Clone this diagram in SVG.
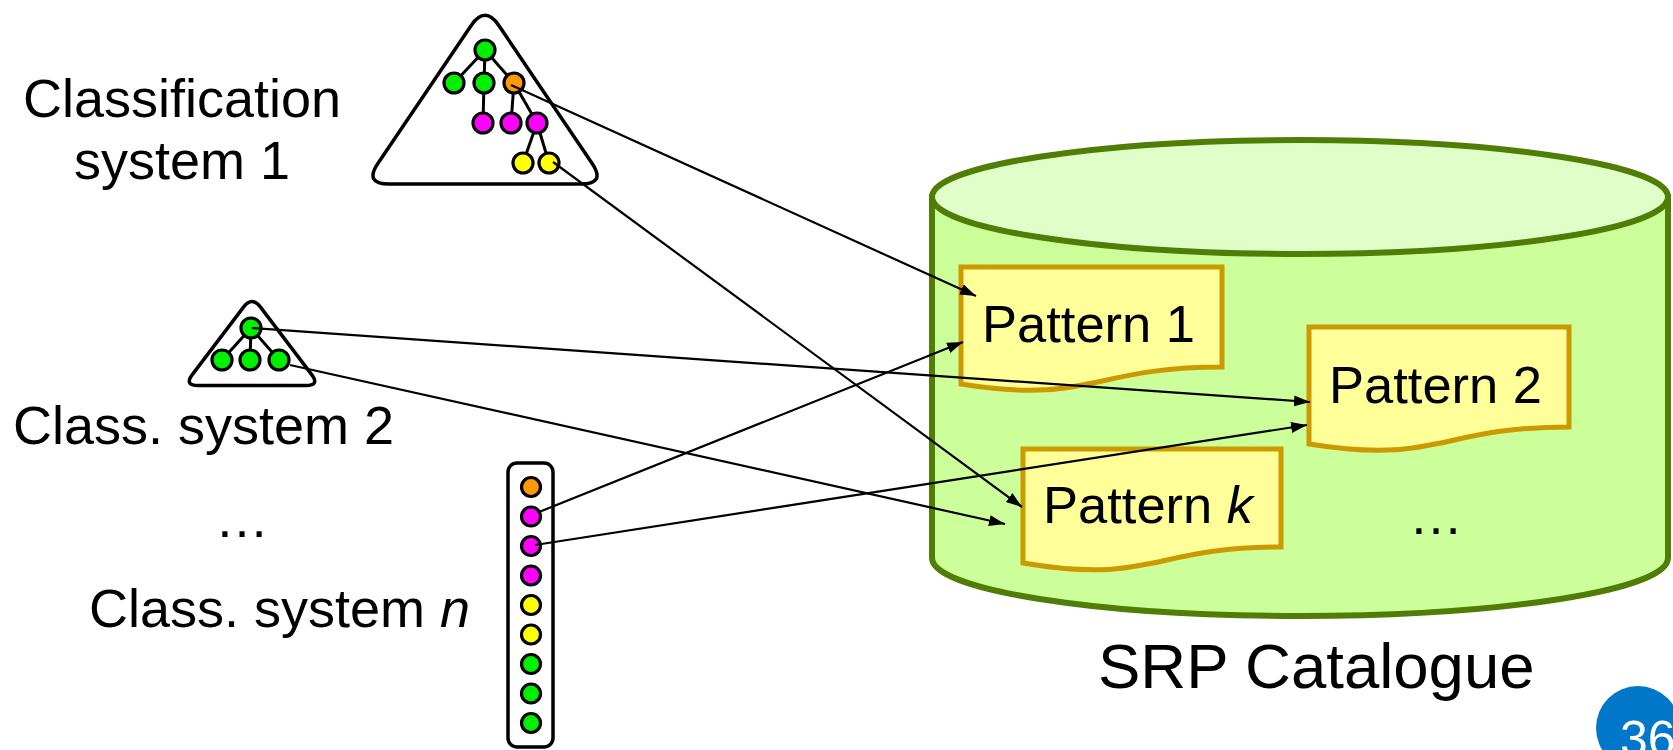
<svg xmlns="http://www.w3.org/2000/svg" width="1673" height="750" viewBox="0 0 1673 750">
<style>
.lbl{font-family:"Liberation Sans",Arial,sans-serif;fill:#000}
.big{font-size:54px}
.pat{font-size:52.5px}
.frame{fill:#fff;stroke:#000;stroke-width:3.5}
.n{stroke:#000;stroke-width:3.2}
.g{fill:#00f000}.m{fill:#ff00ff}.y{fill:#ffff00}.o{fill:#ff9900}
.edge{stroke:#000;stroke-width:3;fill:none}
.doc{fill:#ffff99;stroke:#cc9900;stroke-width:5}
.conn{stroke:#000;stroke-width:2.2;fill:none;marker-end:url(#arr)}
</style>
<defs>
<marker id="arr" markerUnits="userSpaceOnUse" markerWidth="17" markerHeight="12" refX="16" refY="5.5" orient="auto">
<path d="M0,0 L16,5.5 L0,11 z" fill="#000"/>
</marker>
</defs>
<rect width="1673" height="750" fill="#fff"/>

<g id="catalogue">
<path d="M932,197 L932,558 A368,58 0 0 0 1668,558 L1668,197 Z" fill="#ccff99" stroke="#4f7d05" stroke-width="6"/>
<ellipse cx="1300" cy="197" rx="368" ry="57" fill="#e0ffc8" stroke="#4f7d05" stroke-width="6"/>
<text class="lbl big" x="1409" y="534">…</text>
<text class="lbl" x="1098" y="688" font-size="63.5">SRP Catalogue</text>
</g>

<g id="pattern1">
<path class="doc" d="M961,267 H1222 V367 C1091,367 1091,405 961,384 Z"/>
<text class="lbl pat" x="982" y="342">Pattern 1</text>
</g>
<g id="pattern2">
<path class="doc" d="M1309,327 H1569 V427 C1439,427 1439,465 1309,444 Z"/>
<text class="lbl pat" x="1329" y="403">Pattern 2</text>
</g>
<g id="patternk">
<path class="doc" d="M1023,449 H1281 V547 C1152,547 1152,585 1023,563 Z"/>
<text class="lbl pat" x="1043" y="523">Pattern <tspan font-style="italic">k</tspan></text>
</g>

<g id="cs1">
<text class="lbl big" x="182" y="117" text-anchor="middle">Classification</text>
<text class="lbl big" x="182" y="179" text-anchor="middle">system 1</text>
<path class="frame" d="M471,25.7 Q485,5 499,25.7 L592,163.3 Q606,184 581,184 L389,184 Q364,184 378,163.3 Z"/>
<g class="edge">
<line x1="485" y1="50" x2="454" y2="83"/>
<line x1="485" y1="50" x2="484" y2="83"/>
<line x1="485" y1="50" x2="514" y2="83"/>
<line x1="484" y1="83" x2="483" y2="123"/>
<line x1="514" y1="83" x2="511" y2="123"/>
<line x1="514" y1="83" x2="537" y2="123"/>
<line x1="537" y1="123" x2="523" y2="163"/>
<line x1="537" y1="123" x2="549" y2="163"/>
</g>
<circle class="n g" cx="485" cy="50" r="10"/>
<circle class="n g" cx="454" cy="83" r="10"/>
<circle class="n g" cx="484" cy="83" r="10"/>
<circle class="n o" cx="514" cy="83" r="10"/>
<circle class="n m" cx="483" cy="123" r="10"/>
<circle class="n m" cx="511" cy="123" r="10"/>
<circle class="n m" cx="537" cy="123" r="10"/>
<circle class="n y" cx="523" cy="163" r="10"/>
<circle class="n y" cx="549" cy="163" r="10"/>
</g>

<g id="cs2">
<path class="frame" d="M243.5,307.1 Q252,296 260.5,307.1 L311.5,374.4 Q320,385.5 306,385.5 L198,385.5 Q184,385.5 192.5,374.4 Z"/>
<g class="edge">
<line x1="251" y1="328" x2="222" y2="360"/>
<line x1="251" y1="328" x2="250" y2="360"/>
<line x1="251" y1="328" x2="279" y2="360"/>
</g>
<circle class="n g" cx="251" cy="328" r="10"/>
<circle class="n g" cx="222" cy="360" r="10"/>
<circle class="n g" cx="250" cy="360" r="10"/>
<circle class="n g" cx="279" cy="360" r="10"/>
<text class="lbl big" x="13" y="444">Class. system 2</text>
</g>

<g id="dots">
<text class="lbl big" x="215" y="537">…</text>
</g>

<g id="csn">
<text class="lbl big" x="89" y="627">Class. system <tspan font-style="italic">n</tspan></text>
<rect class="frame" x="508" y="463" width="45" height="284" rx="9"/>
<circle class="n o" cx="531" cy="487" r="9.5"/>
<circle class="n m" cx="531" cy="516.5" r="9.5"/>
<circle class="n m" cx="531" cy="546" r="9.5"/>
<circle class="n m" cx="531" cy="575.5" r="9.5"/>
<circle class="n y" cx="531" cy="605" r="9.5"/>
<circle class="n y" cx="531" cy="634.5" r="9.5"/>
<circle class="n g" cx="531" cy="664" r="9.5"/>
<circle class="n g" cx="531" cy="693.5" r="9.5"/>
<circle class="n g" cx="531" cy="723" r="9.5"/>
</g>

<g id="connectors">
<line class="conn" x1="511" y1="85" x2="976" y2="296"/>
<line class="conn" x1="553" y1="162" x2="1022" y2="507"/>
<line class="conn" x1="252" y1="328" x2="1310" y2="402"/>
<line class="conn" x1="290" y1="365" x2="1005" y2="524"/>
<line class="conn" x1="539" y1="512" x2="963" y2="342"/>
<line class="conn" x1="535" y1="545" x2="1307" y2="425"/>
</g>

<g id="pagenum">
<circle cx="1638" cy="728" r="42" fill="#0077c8"/>
<text x="1620" y="756" font-family="'Liberation Sans',Arial,sans-serif" font-size="50" fill="#fff">36</text>
</g>
</svg>
